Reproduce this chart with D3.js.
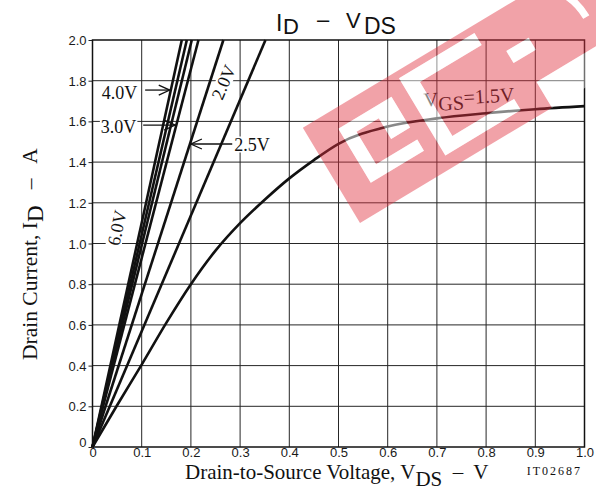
<!DOCTYPE html>
<html>
<head>
<meta charset="utf-8">
<script src="https://cdn.jsdelivr.net/npm/d3@7"></script>
<style>
  html, body { margin: 0; padding: 0; background: #fff; }
  svg { display: block; }
</style>
</head>
<body>
<svg id="chart" width="596" height="499"></svg>
<script>
// Ohmic-region lines for each gate voltage: straight from the origin to (V_DS, I_D)
const lineSeries = ["10V", "6.0V", "4.0V", "3.0V", "2.5V", "2.0V"];
const lineEndVds = [0.1815, 0.1917, 0.2018, 0.2154, 0.266, 0.3516];
const lineEndId  = [2.0, 2.0, 2.0, 2.0, 2.0, 2.0];

// V_GS = 1.5V curve, saturating towards ~1.7 A
const curveVds = [0, 0.05, 0.1, 0.15, 0.2, 0.25, 0.3, 0.35, 0.4, 0.45, 0.5, 0.6, 0.7, 0.8, 0.9, 1.0];
const curveId  = [0, 0.205, 0.405, 0.61, 0.80, 0.965, 1.10, 1.215, 1.32, 1.41, 1.49, 1.575, 1.615, 1.64, 1.66, 1.675];

const xTicks = [0, 0.1, 0.2, 0.3, 0.4, 0.5, 0.6, 0.7, 0.8, 0.9, 1.0];
const xTickLabels = ["0", "0.1", "0.2", "0.3", "0.4", "0.5", "0.6", "0.7", "0.8", "0.9", "1.0"];
const yTicks = [0, 0.2, 0.4, 0.6, 0.8, 1.0, 1.2, 1.4, 1.6, 1.8, 2.0];
const yTickLabels = ["0", "0.2", "0.4", "0.6", "0.8", "1.0", "1.2", "1.4", "1.6", "1.8", "2.0"];

const svg = d3.select("#chart");
const SANS = "'Liberation Sans', Arial, sans-serif";
const SERIF = "'Liberation Serif', 'Times New Roman', serif";

const x = d3.scaleLinear().domain([0, 1]).range([92.5, 584.5]);
const y = d3.scaleLinear().domain([0, 2]).range([447, 40]);

// grid
const grid = svg.append("g").attr("stroke", "#262626").attr("stroke-width", 1);
grid.selectAll("line.v").data(xTicks.slice(1, -1)).join("line")
  .attr("x1", d => x(d)).attr("x2", d => x(d))
  .attr("y1", y(0)).attr("y2", y(2));
grid.selectAll("line.h").data(yTicks.slice(1, -1)).join("line")
  .attr("x1", x(0)).attr("x2", x(1))
  .attr("y1", d => y(d)).attr("y2", d => y(d));

// y axis ticks + labels
const yAxis = d3.axisLeft(y).tickValues(yTicks).tickSize(4).tickPadding(2)
  .tickFormat((d, i) => yTickLabels[i]);
const gy = svg.append("g").attr("transform", `translate(${x(0)},0)`).call(yAxis);
gy.select(".domain").remove();
gy.selectAll("line").attr("stroke", "#222");
gy.selectAll("text").attr("font-family", SANS).attr("font-size", 13).attr("fill", "#1a1a1a")
  .attr("dy", (d) => d === 0 ? "-0.05em" : "0.35em");

// x axis labels
const xAxis = d3.axisBottom(x).tickValues(xTicks).tickSize(0)
  .tickFormat((d, i) => xTickLabels[i]);
const gx = svg.append("g").attr("transform", `translate(0,${y(0)})`).call(xAxis);
gx.select(".domain").remove();
gx.selectAll("text").attr("font-family", SANS).attr("font-size", 13).attr("fill", "#1a1a1a")
  .attr("y", 10).attr("dy", "0");

// label knockouts layer (sits above the grid, below the curves)
const knock = svg.append("g");
const curvesG = svg.append("g");
const labelsG = svg.append("g");

// straight lines
const line = d3.line().x(d => x(d[0])).y(d => y(d[1]));
curvesG.selectAll("path.vgs").data(lineSeries.map((s, i) => ({ name: s, pts: [[0, 0], [lineEndVds[i], lineEndId[i]]] })))
  .join("path").attr("class", "vgs")
  .attr("d", d => line(d.pts))
  .attr("fill", "none").attr("stroke", "#111").attr("stroke-width", 2.6);

// 1.5V curve
const curveLine = d3.line().x(d => x(d[0])).y(d => y(d[1])).curve(d3.curveMonotoneX);
curvesG.append("path")
  .attr("d", curveLine(curveVds.map((v, i) => [v, curveId[i]])))
  .attr("fill", "none").attr("stroke", "#111").attr("stroke-width", 2.6);

// annotations (data units)
function addLabel(txt, px, py, rot, anchor, size) {
  const g = labelsG.append("g").attr("transform", `translate(${x(px)},${y(py)}) rotate(${rot})`);
  const t = g.append("text").attr("font-family", SERIF).attr("font-size", size || 18)
    .attr("text-anchor", anchor || "start").attr("fill", "#111").text(txt);
  const b = t.node().getBBox();
  knock.append("rect")
    .attr("transform", `translate(${x(px)},${y(py)}) rotate(${rot})`)
    .attr("x", b.x - 1).attr("y", b.y + 2).attr("width", b.width + 2).attr("height", b.height - 4)
    .attr("fill", "#fff");
  return t;
}
addLabel("4.0V", 0.019, 1.712, 0);
addLabel("3.0V", 0.017, 1.545, 0);
addLabel("2.5V", 0.288, 1.457, 0);
addLabel("2.0V", 0.278, 1.781, -67, "middle");
addLabel("6.0V", 0.062, 1.07, -78, "middle");

function arrow(x0, x1, yv) {
  const g = labelsG.append("g").attr("stroke", "#111").attr("stroke-width", 1.3).attr("fill", "none");
  const X0 = x(x0), X1 = x(x1), Y = y(yv);
  const dir = Math.sign(X1 - X0);
  g.append("line").attr("x1", X0).attr("x2", X1).attr("y1", Y).attr("y2", Y);
  g.append("path").attr("d", `M${X1 - dir * 11},${Y - 5}L${X1},${Y}L${X1 - dir * 11},${Y + 5}`);
}
arrow(0.107, 0.157, 1.754);
arrow(0.103, 0.168, 1.582);
arrow(0.284, 0.200, 1.489);

// V_GS = 1.5V label
const vgs = labelsG.append("text")
  .attr("transform", `translate(${x(0.674)},${y(1.672)}) rotate(-3.5)`)
  .attr("font-family", SERIF).attr("font-size", 20).attr("fill", "#111");
vgs.append("tspan").text("V");
vgs.append("tspan").attr("dy", 5).text("GS");
vgs.append("tspan").attr("dy", -5).text("=1.5V");

// frame
svg.append("rect").attr("x", x(0)).attr("y", y(2)).attr("width", x(1) - x(0)).attr("height", y(0) - y(2))
  .attr("fill", "none").attr("stroke", "#111").attr("stroke-width", 1.5);

// title
const title = svg.append("text").attr("font-family", SANS).attr("fill", "#111");
title.append("tspan").attr("x", 276).attr("y", 31).attr("font-size", 23).text("I");
title.append("tspan").attr("x", 283).attr("y", 34).attr("font-size", 22).text("D");
title.append("tspan").attr("x", 317).attr("y", 27).attr("font-size", 22).text("–");
title.append("tspan").attr("x", 346).attr("y", 28).attr("font-size", 22).text("V");
title.append("tspan").attr("x", 364).attr("y", 34).attr("font-size", 23).text("DS");

// x axis title
const xt = svg.append("text").attr("font-family", SERIF).attr("font-size", 21).attr("fill", "#111")
  .attr("x", 185).attr("y", 478.5).attr("xml:space", "preserve");
xt.append("tspan").text("Drain-to-Source Voltage, V");
xt.append("tspan").attr("dy", 7).text("DS");
xt.append("tspan").attr("dy", -7).text("  –  V");

svg.append("text").attr("font-family", SERIF).attr("font-size", 12).attr("letter-spacing", 2)
  .attr("fill", "#111").attr("x", 582).attr("y", 475).attr("text-anchor", "end").text("IT02687");

// y axis title
const yt = svg.append("text").attr("font-family", SERIF).attr("font-size", 21.5).attr("fill", "#111")
  .attr("transform", "translate(37,360) rotate(-90)").attr("xml:space", "preserve");
yt.append("tspan").text("Drain Current, I");
yt.append("tspan").attr("dy", 6).attr("font-size", 23).text("D");
yt.append("tspan").attr("dy", -6).text("   –   A");

// watermark logo, drawn in a rotated frame (a along the band, -b upward)
const defs = svg.append("defs");
const poly = pts => "M" + pts.map(p => [p[0], -p[1]].join(",")).join("L") + "Z";
const holes = [
  // first letter: ring open on the right
  poly([[30, 29], [92, 29], [92, 42], [44, 42], [44, 80], [70, 80], [70, 56], [92, 56], [92, 92], [30, 92]]),
  // second letter: C-shape
  poly([[108, 14], [196, 14], [196, 27], [124, 27], [124, 90], [196, 90], [196, 104], [108, 104]]),
  // small gap inside the last letter
  poly([[214, 58], [240, 58], [240, 72], [214, 72]])
];
const arcD = "M262,-116 Q300,-100 300,-60";
const mask = defs.append("mask").attr("id", "wmMask").attr("maskUnits", "userSpaceOnUse")
  .attr("x", -400).attr("y", -400).attr("width", 1200).attr("height", 800);
mask.append("rect").attr("x", -400).attr("y", -400).attr("width", 1200).attr("height", 800).attr("fill", "#fff");
holes.forEach(h => mask.append("path").attr("d", h).attr("fill", "#000"));
mask.append("path").attr("d", arcD).attr("stroke", "#000").attr("stroke-width", 7).attr("fill", "none");

const wm = svg.append("g").attr("transform", "translate(360,223) rotate(-31)");
wm.append("path")
  .attr("d", "M0,0L224,0L224,-30L340,-30L340,-111L0,-111Z")
  .attr("fill", "rgb(225,50,65)").attr("opacity", 0.45).attr("mask", "url(#wmMask)");
const wmWhite = wm.append("g").attr("fill", "#fff").attr("opacity", 0.5);
holes.forEach(h => wmWhite.append("path").attr("d", h));
wmWhite.append("path").attr("d", "M224,0L340,0L340,-30L224,-30Z").attr("opacity", 0.8);
wm.append("path").attr("d", arcD).attr("stroke", "#fff").attr("stroke-opacity", 0.6)
  .attr("stroke-width", 7).attr("fill", "none");
</script>
</body>
</html>
